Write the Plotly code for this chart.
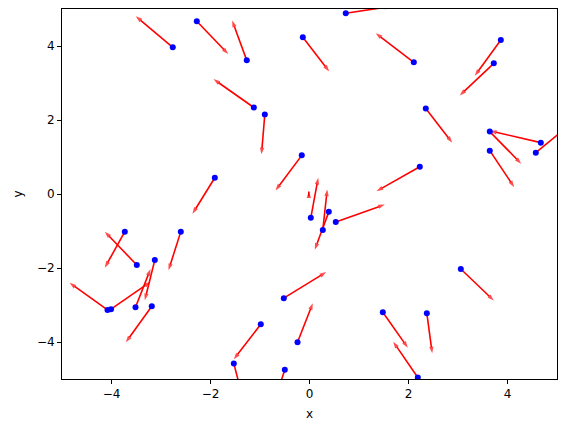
import plotly.graph_objects as go

# Points (tail of each arrow) and arrow tips, in data units
px = [-2.762, -2.277, -1.267, -0.135, 0.733, 2.107, -1.125, -0.903, 3.865, 3.723,
      2.349, 3.642, 4.673, 4.572, 3.642, 2.228, -1.913, -0.156, 0.026, 0.390,
      0.269, 0.531, -3.731, -3.489, -2.600, -3.125, -3.515, -4.081, -4.010, -3.186,
      -0.519, -0.984, -0.242, -1.529, -0.499, 1.481, 3.057, 2.370, 2.188]
py = [3.965, 4.670, 3.612, 4.236, 4.887, 3.558, 2.338, 2.148, 4.163, 3.531,
      2.311, 1.687, 1.388, 1.117, 1.172, 0.738, 0.439, 1.044, -0.645, -0.483,
      -0.971, -0.754, -1.017, -1.920, -1.017, -1.784, -3.059, -3.132, -3.113, -3.032,
      -2.815, -3.520, -4.008, -4.578, -4.751, -3.195, -2.028, -3.222, -4.958]
tip_x = [-3.509, -1.642, -1.562, 0.398, 1.650, 1.339, -1.939, -0.970, 3.339, 3.036,
         2.883, 4.277, 3.646, 5.270, 4.135, 1.354, -2.364, -0.687, 0.176, 0.107,
         0.358, 1.521, -4.135, -4.135, -2.848, -3.327, -3.212, -4.848, -3.212, -3.711,
         0.337, -1.529, 0.067, -1.374, -0.667, 1.986, 3.723, 2.479, 1.691]
tip_y = [4.805, 3.783, 4.686, 3.314, 5.070, 4.344, 3.105, 1.071, 3.195, 2.663,
         1.388, 0.819, 1.708, 1.885, 0.184, 0.076, -0.537, 0.095, 0.439, -1.505,
         0.122, -0.285, -1.993, -1.017, -2.061, -2.869, -2.028, -2.400, -2.373, -4.008,
         -2.110, -4.469, -2.951, -5.383, -5.440, -4.155, -2.880, -4.306, -3.992]

# a tiny stray arrow near the origin
stray_x = [-0.014, -0.014]
stray_y = [-0.06, 0.07]

ax_range = [-5, 5]
x_ticks = [-4, -2, 0, 2, 4]
y_ticks = [-4, -2, 0, 2, 4]

lx, ly, sizes = [], [], []
for x0, y0, x1, y1 in zip(px + [stray_x[0]], py + [stray_y[0]],
                          tip_x + [stray_x[1]], tip_y + [stray_y[1]]):
    lx += [x0, x1, None]
    ly += [y0, y1, None]
    sizes += [0, 7, 0]

fig = go.Figure()
fig.add_trace(go.Scatter(
    x=lx, y=ly, mode="lines+markers",
    line=dict(color="red", width=1.6),
    marker=dict(symbol="arrow", size=sizes, angleref="previous", color="red",
                line=dict(width=0)),
    hoverinfo="skip", showlegend=False,
))
fig.add_trace(go.Scatter(
    x=px, y=py, mode="markers",
    marker=dict(color="blue", size=6, line=dict(width=0)),
    showlegend=False,
))

axis_common = dict(
    showgrid=False, zeroline=False, showline=True, linecolor="black", linewidth=1,
    mirror=True, ticks="outside", ticklen=4, tickwidth=1, tickcolor="black",
    automargin=False,
    tickfont=dict(family="DejaVu Sans", size=12, color="black"),
)
fig.update_xaxes(range=ax_range, tickvals=x_ticks,
                 title=dict(text="x", font=dict(family="DejaVu Sans", size=12, color="black"), standoff=9),
                 **axis_common)
fig.update_yaxes(range=ax_range, tickvals=y_ticks,
                 title=dict(text="y", font=dict(family="DejaVu Sans", size=12, color="black"), standoff=11),
                 **axis_common)
fig.update_layout(
    width=565, height=432,
    margin=dict(l=62, r=8, t=9, b=53),
    plot_bgcolor="white", paper_bgcolor="white",
    font=dict(family="DejaVu Sans", size=12, color="black"),
)
fig.write_html("out.html", config={"displayModeBar": False},
               post_script="document.body.style.margin='0';document.body.style.overflow='hidden';")
